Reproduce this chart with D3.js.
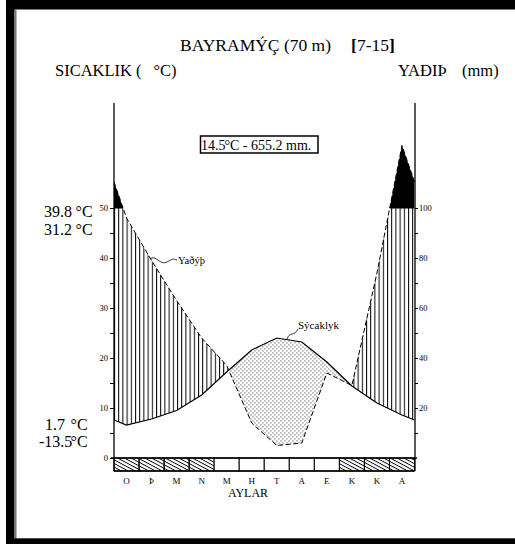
<!DOCTYPE html>
<html>
<head>
<meta charset="utf-8">
<script src="https://cdn.jsdelivr.net/npm/d3@7"></script>
<style>
body { margin: 0; background: #fff; }
text { font-family: "Liberation Serif", "Times New Roman", serif; fill: #000; }
</style>
</head>
<body>
<svg id="chart" width="515" height="544"></svg>
<script>
// climate data
var months = ["O", "Þ", "M", "N", "M", "H", "T", "A", "E", "K", "K", "A"];
var temperature = [6.6, 7.8, 9.5, 12.6, 17.2, 21.6, 24.0, 23.2, 19.2, 14.4, 11.0, 8.6];
var precipitation = [96, 79, 63, 48, 37, 14, 5, 6, 34, 29, 74, 125];
var frost = [1, 1, 1, 1, 0, 0, 0, 0, 0, 1, 1, 1];
var tempTicks = d3.range(0, 55, 5);
var precTicks = d3.range(10, 110, 10);
var extremeValues = ["39.8", "31.2", "1.7", "-13.5"];
var station = "BAYRAMÝÇ (70 m)";
var years = "7-15";
var summary = ["14.5", " - 655.2 mm."];

var svg = d3.select("#chart");
var defs = svg.append("defs");

var xLeft = 114, xRight = 414.5, yTop = 103, yBottom = 471;

var x = d3.scaleLinear().domain([-0.5, 11.5]).range([xLeft, xRight]);
var yT = d3.scaleLinear().domain([0, 50]).range([458, 208]);
var yP = d3.scaleLinear().domain([0, 100]).range([458, 208]);

// wrap series so the curve reaches both axes
function wrap(arr) {
    var e = (arr[0] + arr[arr.length - 1]) / 2;
    return [[-0.5, e]].concat(arr.map(function(v, i) { return [i, v]; }), [[11.5, e]]);
}
var tData = wrap(temperature);
var pData = wrap(precipitation);

// frame
svg.append("rect").attr("x", 6).attr("y", 0).attr("width", 509).attr("height", 9.5).attr("fill", "#000");
svg.append("rect").attr("x", 6).attr("y", 0).attr("width", 8.5).attr("height", 544).attr("fill", "#000");
svg.append("rect").attr("x", 14.5).attr("y", 9.5).attr("width", 2).attr("height", 529).attr("fill", "#777");
svg.append("rect").attr("x", 6).attr("y", 538.3).attr("width", 509).attr("height", 6).attr("fill", "#000");

// patterns
var vl = defs.append("pattern").attr("id", "vlines").attr("patternUnits", "userSpaceOnUse")
    .attr("x", xLeft).attr("y", 0).attr("width", 4.2).attr("height", 10);
vl.append("rect").attr("x", 0).attr("y", 0).attr("width", 1).attr("height", 10).attr("fill", "#000");

var dots = defs.append("pattern").attr("id", "dots").attr("patternUnits", "userSpaceOnUse")
    .attr("width", 4).attr("height", 4);
dots.append("rect").attr("x", 0.5).attr("y", 0.5).attr("width", 0.9).attr("height", 0.9).attr("fill", "#000");
dots.append("rect").attr("x", 2.5).attr("y", 2.5).attr("width", 0.9).attr("height", 0.9).attr("fill", "#000");

var dg = defs.append("pattern").attr("id", "diag").attr("patternUnits", "userSpaceOnUse")
    .attr("width", 10).attr("height", 3.2).attr("patternTransform", "rotate(28)");
dg.append("rect").attr("x", 0).attr("y", 0).attr("width", 10).attr("height", 0.9).attr("fill", "#000");

// clip areas
function clip(id, y0, scale, data) {
    var a = d3.area().x(function(d) { return x(d[0]); })
        .y0(y0).y1(function(d) { return scale(d[1]); });
    defs.append("clipPath").attr("id", id).append("path").attr("d", a(data));
}
clip("belowPrec", yBottom, yP, pData);
clip("abovePrec", 60, yP, pData);
clip("belowTemp", yBottom, yT, tData);
clip("aboveTemp", 60, yT, tData);

// humid period (vertical lines)
svg.append("g").attr("clip-path", "url(#belowPrec)")
    .append("rect").attr("x", xLeft).attr("y", yP(100)).attr("width", xRight - xLeft)
    .attr("height", yP(0) - yP(100)).attr("fill", "url(#vlines)")
    .attr("clip-path", "url(#aboveTemp)");

// dry period (dots)
svg.append("g").attr("clip-path", "url(#belowTemp)")
    .append("rect").attr("x", xLeft).attr("y", yP(100)).attr("width", xRight - xLeft)
    .attr("height", yP(0) - yP(100)).attr("fill", "url(#dots)")
    .attr("clip-path", "url(#abovePrec)");

// above 100 mm (black)
var bg = svg.append("g").attr("clip-path", "url(#belowPrec)");
bg.append("rect").attr("x", xLeft).attr("y", 60).attr("width", xRight - xLeft)
    .attr("height", yP(100) - 60).attr("fill", "#000");
bg.append("line").attr("x1", xLeft).attr("x2", xRight).attr("y1", yP(100)).attr("y2", yP(100))
    .attr("stroke", "#000").attr("stroke-width", 1.2);

// curves
svg.append("path").attr("d", d3.line().x(function(d) { return x(d[0]); }).y(function(d) { return yT(d[1]); })(tData))
    .attr("fill", "none").attr("stroke", "#000").attr("stroke-width", 1.2);
svg.append("path").attr("d", d3.line().x(function(d) { return x(d[0]); }).y(function(d) { return yP(d[1]); })(pData))
    .attr("fill", "none").attr("stroke", "#000").attr("stroke-width", 1).attr("stroke-dasharray", "5,2.5");

// month band
svg.append("g").selectAll("rect").data(months).enter().append("rect")
    .attr("x", function(d, i) { return x(i - 0.5); })
    .attr("y", 458).attr("width", x(0.5) - x(-0.5)).attr("height", yBottom - 458)
    .attr("fill", function(d, i) { return frost[i] ? "url(#diag)" : "#fff"; })
    .attr("stroke", "#000").attr("stroke-width", 1);
svg.append("line").attr("x1", 111).attr("x2", 417).attr("y1", 458).attr("y2", 458)
    .attr("stroke", "#000").attr("stroke-width", 1.3);
svg.append("line").attr("x1", xLeft).attr("x2", xRight).attr("y1", yBottom).attr("y2", yBottom)
    .attr("stroke", "#000").attr("stroke-width", 1.3);

svg.append("g").selectAll("text").data(months).enter().append("text")
    .attr("x", function(d, i) { return x(i); }).attr("y", 484)
    .attr("text-anchor", "middle").style("font-size", "9px").text(function(d) { return d; });
svg.append("text").attr("x", 248).attr("y", 497).attr("text-anchor", "middle")
    .style("font-size", "12px").text("AYLAR");

// axes
var axL = svg.append("g").attr("transform", "translate(" + xLeft + ",0)")
    .call(d3.axisLeft(yT).tickValues(tempTicks).tickSize(4).tickPadding(2)
        .tickFormat(function(d) { return d % 10 === 0 ? d : ""; }));
var axR = svg.append("g").attr("transform", "translate(415,0)")
    .call(d3.axisRight(yP).tickValues(precTicks).tickSize(3).tickPadding(1)
        .tickFormat(function(d) { return d % 20 === 0 ? d : ""; }));
[axL, axR].forEach(function(ax) {
    ax.select(".domain").remove();
    ax.selectAll("line").attr("stroke", "#000");
    ax.selectAll("text").style("font-size", "8.5px").style("font-family", '"Liberation Serif", serif').attr("fill", "#000");
});
svg.append("line").attr("x1", xLeft).attr("x2", xLeft).attr("y1", yTop).attr("y2", yBottom)
    .attr("stroke", "#000").attr("stroke-width", 1.3);
svg.append("line").attr("x1", 415).attr("x2", 415).attr("y1", yTop).attr("y2", yBottom)
    .attr("stroke", "#000").attr("stroke-width", 1.3);

// one text: number, then "°C" placed so the C starts at cX
function degLabel(numX, num, cX, rest, y, size) {
    var t = svg.append("text").attr("y", y).style("font-size", size + "px");
    t.append("tspan").attr("x", numX).text(num);
    t.append("tspan").attr("x", cX - size * 0.4).text("°C" + rest);
    return t;
}

// titles
var title = svg.append("text").attr("x", 180).attr("y", 51).style("font-size", "17.5px");
title.append("tspan").text(station);
title.append("tspan").attr("dx", 20).style("font-weight", "bold").text("[");
title.append("tspan").text(years);
title.append("tspan").style("font-weight", "bold").text("]");

degLabel(55, "SICAKLIK (", 160, ")", 76, 16.5);

var yl = svg.append("text").attr("x", 398).attr("y", 76).style("font-size", "16.5px");
yl.append("tspan").text("YAÐIÞ");
yl.append("tspan").attr("x", 462).text("(mm)");

// summary box
svg.append("rect").attr("x", 200.5).attr("y", 136).attr("width", 117.5).attr("height", 17)
    .attr("fill", "#fff").attr("stroke", "#000").attr("stroke-width", 1.5);
degLabel(201, summary[0], 230, summary[1], 150, 14);

// extremes on the left
var extY = [216.7, 235, 430, 447];
var numX = [44, 44, 45, 39];
var cX = [82, 82, 77, 77];
extremeValues.forEach(function(v, i) {
    degLabel(numX[i], v, cX[i], "", extY[i], 16);
});

// curve labels
svg.append("path").attr("d", "M150,259 C156,254 160,266 167,262 S173,259 177,260")
    .attr("fill", "none").attr("stroke", "#000").attr("stroke-width", 0.8);
svg.append("text").attr("x", 178).attr("y", 264).style("font-size", "10.5px").text("Yaðýþ");
svg.append("path").attr("d", "M287,339 C290,331 294,337 298,329")
    .attr("fill", "none").attr("stroke", "#000").attr("stroke-width", 0.8);
svg.append("text").attr("x", 298).attr("y", 329).style("font-size", "11px").text("Sýcaklyk");
</script>
</body>
</html>
